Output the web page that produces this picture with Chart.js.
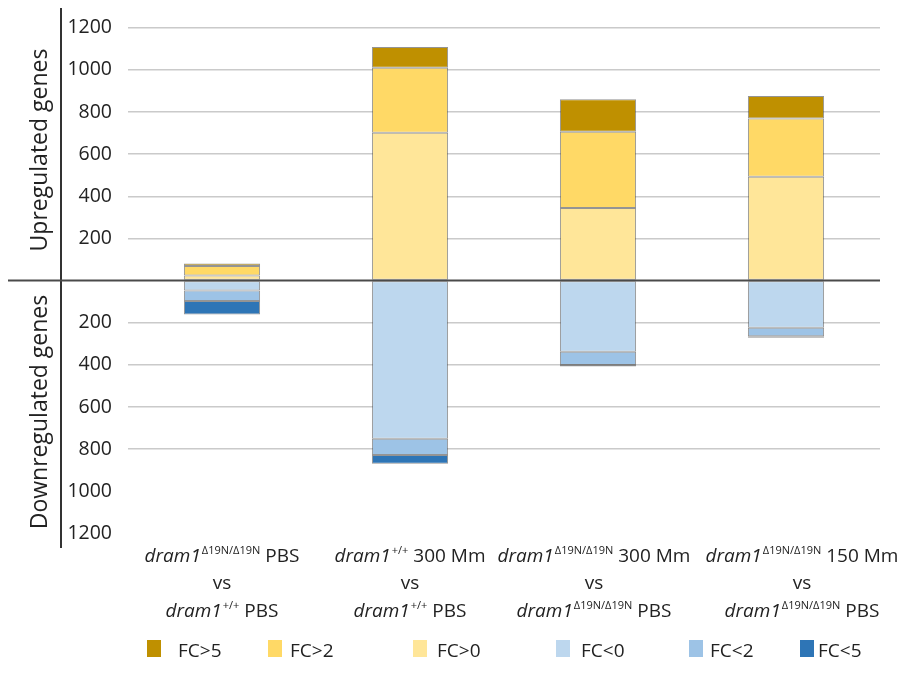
<!DOCTYPE html>
<html><head><meta charset="utf-8">
<script src="https://cdn.jsdelivr.net/npm/chart.js@4.4.1/dist/chart.umd.min.js"></script>
<style>html,body{margin:0;padding:0;background:#fff;}#wrap{width:920px;height:694px;position:relative;}</style>
</head><body><div id="wrap"><canvas id="c"></canvas></div>
<script>
// ---------- data ----------
const categories = [
  'dram1 Δ19N/Δ19N PBS vs dram1 +/+ PBS',
  'dram1 +/+ 300 Mm vs dram1 +/+ PBS',
  'dram1 Δ19N/Δ19N 300 Mm vs dram1 Δ19N/Δ19N PBS',
  'dram1 Δ19N/Δ19N 150 Mm vs dram1 Δ19N/Δ19N PBS'
];
const labelTop = [['dram1','Δ19N/Δ19N',' PBS'],['dram1','+/+',' 300 Mm'],['dram1','Δ19N/Δ19N',' 300 Mm'],['dram1','Δ19N/Δ19N',' 150 Mm']];
const labelMid = ['vs','vs','vs','vs'];
const labelBottom = [['dram1','+/+',' PBS'],['dram1','+/+',' PBS'],['dram1','Δ19N/Δ19N',' PBS'],['dram1','Δ19N/Δ19N',' PBS']];
const seriesNames = ['FC>5','FC>2','FC>0','FC<0','FC<2','FC<5'];
const upFC5 = [12, 99, 154, 107];
const upFC2 = [45, 308, 361, 276];
const upFC0 = [24, 702, 345, 493];
const downFC0 = [47, 750, 338, 224];
const downFC2 = [50, 78, 62, 40];
const downFC5 = [64, 41, 8, 7];
const yMin = -1200, yMax = 1200, yStep = 200;
const axisTitles = ['Upregulated genes', 'Downregulated genes'];

// ---------- style ----------
const COLORS = {'FC>5':'#BF9000','FC>2':'#FFD966','FC>0':'#FFE699','FC<0':'#BDD7EE','FC<2':'#9DC3E6','FC<5':'#2E75B6'};
const FONT = '"Open Sans", "Noto Sans", sans-serif';
const neg = a => a.map(v => -v);
const labelShift = [0, 0, -4, 16];

function ds(name, data) {
  return {label: name, data, backgroundColor: COLORS[name], borderColor: 'rgba(60,60,60,0.55)',
    borderWidth: 1, borderSkipped: false, stack: 'g', barPercentage: 0.405, categoryPercentage: 1};
}

const datasets = [
  ds('FC>0', upFC0), ds('FC>2', upFC2), ds('FC>5', upFC5),
  ds('FC<0', neg(downFC0)), ds('FC<2', neg(downFC2)), ds('FC<5', neg(downFC5))
];

const MAIN = 19, SUP = 11;
function richWidth(ctx, parts) {
  ctx.font = 'italic ' + MAIN + 'px ' + FONT; let w = ctx.measureText(parts[0]).width + 1;
  ctx.font = SUP + 'px ' + FONT; w += ctx.measureText(parts[1]).width;
  ctx.font = MAIN + 'px ' + FONT; w += ctx.measureText(parts[2]).width;
  return w;
}
function drawRich(ctx, parts, cx, y) {
  let x = cx - richWidth(ctx, parts) / 2;
  ctx.textAlign = 'left'; ctx.textBaseline = 'alphabetic';
  ctx.font = 'italic ' + MAIN + 'px ' + FONT; ctx.fillText(parts[0], x, y); x += ctx.measureText(parts[0]).width + 1;
  ctx.font = SUP + 'px ' + FONT; ctx.fillText(parts[1], x, y - 8); x += ctx.measureText(parts[1]).width;
  ctx.font = MAIN + 'px ' + FONT; ctx.fillText(parts[2], x, y);
}

const legendBoxX = [147, 268, 413, 556, 689, 800];
const legendTextX = [178, 290, 437, 581, 710, 818];

const decor = {
  id: 'decor',
  afterDraw(chart) {
    const ctx = chart.ctx, y = chart.scales.y, x = chart.scales.x;
    const y0 = y.getPixelForValue(0);
    ctx.save();
    ctx.fillStyle = '#222';
    ctx.strokeStyle = '#333'; ctx.lineWidth = 2;
    ctx.beginPath(); ctx.moveTo(61, 8); ctx.lineTo(61, 548); ctx.stroke();
    ctx.strokeStyle = '#4a4a4a'; ctx.lineWidth = 2;
    ctx.beginPath(); ctx.moveTo(8, y0); ctx.lineTo(880, y0); ctx.stroke();
    ctx.font = '23px ' + FONT; ctx.textAlign = 'center'; ctx.textBaseline = 'alphabetic';
    ctx.save(); ctx.translate(47, 150); ctx.rotate(-Math.PI/2); ctx.fillText(axisTitles[0], 0, 0); ctx.restore();
    ctx.save(); ctx.translate(47, 412); ctx.rotate(-Math.PI/2); ctx.fillText(axisTitles[1], 0, 0); ctx.restore();
    categories.forEach((c, i) => {
      const cx = x.getPixelForValue(i) + labelShift[i];
      drawRich(ctx, labelTop[i], cx, 562);
      ctx.font = MAIN + 'px ' + FONT; ctx.textAlign = 'center'; ctx.fillText(labelMid[i], cx, 589);
      drawRich(ctx, labelBottom[i], cx, 617);
    });
    seriesNames.forEach((n, i) => {
      ctx.fillStyle = COLORS[n]; ctx.fillRect(legendBoxX[i], 640, 14, 17);
      ctx.fillStyle = '#222'; ctx.font = '19px ' + FONT; ctx.textAlign = 'left';
      ctx.fillText(n, legendTextX[i], 657);
    });
    ctx.restore();
  }
};

new Chart(document.getElementById('c'), {
  type: 'bar',
  data: {labels: categories, datasets},
  options: {
    responsive: true, maintainAspectRatio: false, animation: false,
    layout: {padding: {top: 24.5, right: 40, bottom: 160.5, left: 0}},
    plugins: {legend: {display: false}, tooltip: {enabled: false}},
    scales: {
      x: {stacked: true, display: false},
      y: {
        stacked: true, min: yMin, max: yMax,
        afterFit(s) { s.width = 128; },
        border: {display: false},
        grid: {drawTicks: false, lineWidth: 1.5,
          color: c => (c.tick.value === 0 || c.tick.value < -800) ? 'rgba(0,0,0,0)' : '#cacaca'},
        ticks: {stepSize: yStep, padding: 16, color: '#222', font: {family: FONT, size: 19.5},
          callback: v => v === 0 ? '' : String(Math.abs(v))}
      }
    }
  },
  plugins: [decor]
});
</script></body></html>
